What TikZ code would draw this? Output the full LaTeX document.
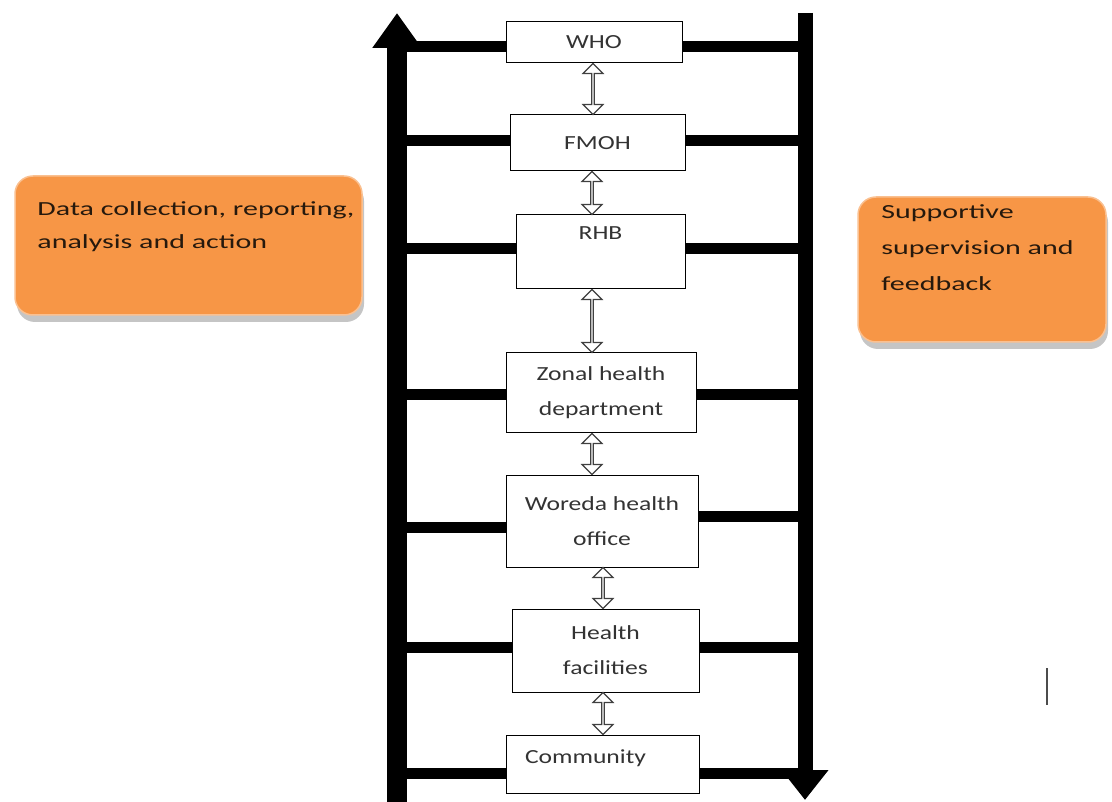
\documentclass[tikz,border=0pt]{standalone}
\usepackage{fontspec}
\usepackage{tikz}
\usetikzlibrary{positioning, arrows.meta, shadows, shapes.arrows, calc}
\newfontfamily\boxfont[FakeStretch=1.28]{Carlito}
\newfontfamily\notefont[FakeStretch=1.5]{Carlito}
\definecolor{noteorange}{RGB}{247,150,70}
\tikzset{
  box/.style = {draw, line width=1pt, fill=white, inner sep=0pt},
  boxtext/.style = {text=black!80, align=center, font=\boxfont\fontsize{20}{35}\selectfont},
  rung/.style = {line width=11pt},
  twoway/.style = {double arrow, draw=black!75, line width=1.2pt, fill=white, rotate=90,
                   inner sep=0pt, minimum width=20pt, double arrow head extend=4pt},
  note/.style = {fill=noteorange, draw=noteorange!60!white, line width=1.5pt, rounded corners=18pt,
                 drop shadow={shadow xshift=2pt, shadow yshift=-7pt, fill=black!45}},
  notetext/.style = {anchor=north west, align=left, inner sep=0pt, text=black!80!brown,
                     font=\notefont\fontsize{20}{33}\selectfont}
}

\begin{document}
\begin{tikzpicture}[x=1pt, y=-1pt]
  \useasboundingbox (0,0) rectangle (1112,802);

  % the two long bars
  \coordinate (L) at (397,0);
  \coordinate (R) at (805,0);

  % levels
  \node[box, boxtext, minimum width=176pt, minimum height=41pt] (who) at (594,42.5) {WHO};
  \node[box, boxtext, minimum width=175pt, minimum height=56pt] (fmoh) at (597.5,143) {FMOH};
  \node[box, minimum width=169pt, minimum height=74pt] (rhb) at (600.5,252) {};
  \node[boxtext, below=9pt of rhb.north] {RHB};
  \node[box, boxtext, minimum width=190pt, minimum height=80pt] (zonal) at (601,393) {Zonal health\\department};
  \node[box, boxtext, minimum width=192pt, minimum height=92pt] (woreda) at (602,521) {Woreda health\\office};
  \node[box, boxtext, minimum width=187pt, minimum height=83pt] (hf) at (605.5,650.5) {Health\\facilities};
  \node[box, minimum width=193pt, minimum height=58pt] (comm) at (602.5,764) {};
  \node[boxtext] at ([xshift=-17pt, yshift=6pt]comm.center) {Community};

  % rungs
  \foreach \n/\yl/\yr in {who/47/47, fmoh/141/141, rhb/249/249, zonal/395/395,
                          woreda/527/516, hf/647/647, comm/773/773}{
    \draw[rung] (L |- 0,\yl) -- (\n.west |- 0,\yl);
    \draw[rung] (\n.east |- 0,\yr) -- (R |- 0,\yr);
  }

  \draw[line width=20pt, -{Triangle[width=47pt, length=35pt]}] (L |- 0,802) -- (L |- 0,13);
  \draw[line width=15pt, -{Triangle[width=45pt, length=30pt]}] (R |- 0,13) -- (R |- 0,800);

  % two-way links
  \foreach \a/\b/\ax in {who/fmoh/593, fmoh/rhb/592, rhb/zonal/592,
                         zonal/woreda/592, woreda/hf/603, hf/comm/603}
    \path let \p1 = (\a.south -| \ax,0), \p2 = (\b.north -| \ax,0) in
      node[twoway, minimum height={veclen(\x2-\x1,\y2-\y1)}] at ($(\p1)!0.5!(\p2)$) {};

  % side notes
  \node[note, minimum width=347pt, minimum height=139pt] (lnote) at (188.5,245.5) {};
  \node[notetext] at ([xshift=23pt, yshift=-26pt]lnote.north west) {Data collection, reporting,\\analysis and action};
  \node[note, minimum width=248pt, minimum height=145pt] (rnote) at (982,269.5) {};
  \node[notetext, font=\notefont\fontsize{20}{36}\selectfont] at ([xshift=24pt, yshift=-8pt]rnote.north west) {Supportive\\supervision and\\feedback};

  \coordinate (mark) at (1047,668);
  \draw[line width=2pt, black!70] (mark) -- ++(0,37);
\end{tikzpicture}
\end{document}
